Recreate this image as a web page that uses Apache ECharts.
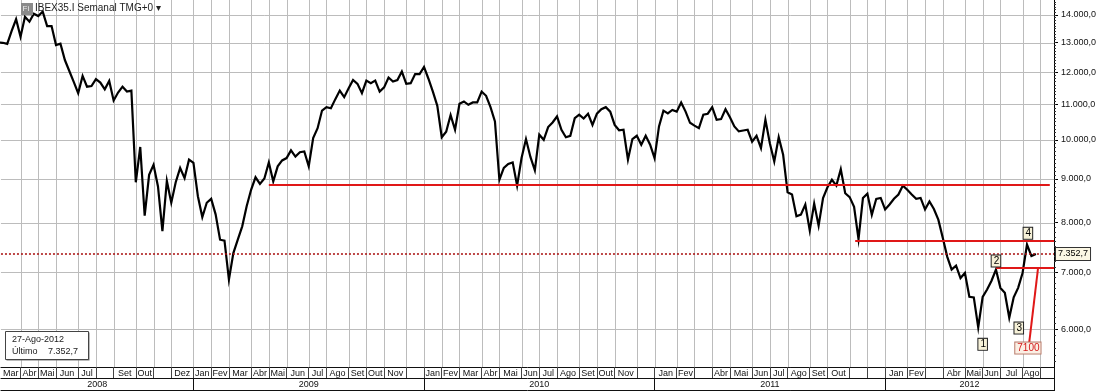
<!DOCTYPE html>
<html>
<head>
<meta charset="utf-8">
<script src="https://cdn.jsdelivr.net/npm/echarts@6/dist/echarts.min.js"></script>
<style>
html,body{margin:0;padding:0;background:#ffffff;}
#chart{width:1100px;height:391px;}
</style>
</head>
<body>
<div id="chart"></div>
<script>
// ---------------- data ----------------
const firstWeek = '2008-03-03';          // Monday of the first weekly bar
const weeklyClose = [
 13000,12990,12950,13410,13840,13200,13930,13750,14050,13960,
 14130,13590,13590,12910,12960,12400,12040,11690,11340,11880,
 11540,11560,11780,11670,11460,11720,11120,11360,11540,11390,
 11420,8920,9810,8150,9100,9350,8820,7820,8950,8440,
 8920,9270,9020,9480,9400,8590,8120,8440,8530,8180,
 7640,7620,6860,7370,7640,7920,8360,8740,9040,8880,
 9010,9410,8940,9310,9460,9520,9720,9560,9670,9690,
 9310,10050,10320,10820,10920,10890,11160,11420,11220,11490,
 11750,11630,11340,11730,11650,11730,11390,11520,11830,11700,
 11750,12020,11630,11650,11940,11940,12170,11790,11390,10960,
 10070,10220,10690,10275,11020,11090,10990,11060,11060,11390,
 11260,10920,10510,8980,9270,9370,9410,8840,9520,10020,
 9550,9210,10140,10000,10350,10480,10650,10275,10070,10110,
 10600,10700,10590,10730,10410,10730,10860,10920,10790,10410,
 10260,10275,9480,10020,10110,9870,10110,9870,9520,10370,
 10820,10740,10840,10790,11060,10790,10470,10390,10320,10700,
 10730,10920,10555,10575,10860,10630,10370,10230,10255,10275,
 9950,10110,9780,10555,9910,9435,10070,9605,8680,8630,
 8140,8175,8400,7835,8420,7935,8550,8800,8980,8840,
 9240,8660,8570,8350,7650,8550,8650,8170,8530,8550,
 8290,8400,8530,8630,8840,8740,8630,8530,8550,8290,
 8470,8300,8065,7680,7300,7050,7125,6890,6985,6550,
 6540,6030,6550,6680,6840,7050,6710,6620,6190,6540,
 6710,6985,7540,7310,7352.7
];
// month labels, one per month from Mar 2008 to Sep 2012 ('' = not printed)
const monthLabels = [
 'Mar','Abr','Mai','Jun','Jul','','Set','Out','','Dez',
 'Jan','Fev','Mar','Abr','Mai','Jun','Jul','Ago','Set','Out','Nov','',
 'Jan','Fev','Mar','Abr','Mai','Jun','Jul','Ago','Set','Out','Nov','',
 'Jan','Fev','','Abr','Mai','Jun','Jul','Ago','Set','Out','','',
 'Jan','Fev','','Abr','Mai','Jun','Jul','Ago',''
];
const yearLabels = ['2008','2009','2010','2011','2012'];
const yTicks = [6000,7000,8000,9000,10000,11000,12000,13000,14000];
const lastValue = 7352.7;
const lastDateText = '27-Ago-2012';
// horizontal support / resistance lines: [start, end(null = right edge), level]
const levelLines = [
 ['2009-05-04T00:00:00', '2012-09-18T00:00:00', 8870],
 ['2011-11-15T18:00:00', null, 7612],
 ['2012-06-25T00:00:00', null, 7080]
];
// projected target line: [date, value] -> [date, value], and its label
const targetFrom = ['2012-08-30T12:00:00', 7080];
const targetTo = ['2012-08-16T12:00:00', 5788];
const targetText = '7100';
const targetLabelAt = ['2012-08-14T10:00:00', 5705];
// wave count labels
const waveText = ['1', '2', '3', '4'];
const waveAt = [
 ['2012-06-04T00:00:00', 5762],
 ['2012-06-25T00:00:00', 7214],
 ['2012-07-31T00:00:00', 6021],
 ['2012-08-14T10:00:00', 7773]
];

// ---------------- helpers ----------------
const DAY = 86400000, WEEK = 7 * DAY;
const ts = s => Date.parse(s + (s.length > 10 ? 'Z' : 'T00:00:00Z'));
const t0 = ts(firstWeek);
const weekDates = weeklyClose.map((_, i) => t0 + i * WEEK);
const xMin = t0 + 0.586 * WEEK;
const xMax = t0 + 238.09 * WEEK;

// first weekly bar of every month (chart separators sit on them)
const monthStarts = [];
for (let t = t0; t <= xMax; t += WEEK) {
  const d = new Date(t);
  const key = d.getUTCFullYear() * 12 + d.getUTCMonth();
  if (!monthStarts.length || monthStarts[monthStarts.length - 1].key !== key) {
    monthStarts.push({ t, key, y: d.getUTCFullYear(), m: d.getUTCMonth() });
  }
}
const monthGrid = monthStarts.map(o => o.t).filter(t => t > xMin && t < xMax);
const monthLabelPos = [], monthLabelMap = new Map();
monthStarts.forEach((o, k) => {
  const a = Math.max(o.t, xMin);
  const b = k + 1 < monthStarts.length ? monthStarts[k + 1].t : xMax;
  const c = (a + b) / 2;
  if (monthLabels[k]) { monthLabelPos.push(c); monthLabelMap.set(c, monthLabels[k]); }
});
const yearStarts = monthStarts.filter(o => o.m === 0).map(o => o.t);
const yearBounds = [xMin].concat(yearStarts, [xMax]);
const yearLabelPos = [], yearLabelMap = new Map();
yearLabels.forEach((s, k) => {
  const c = (yearBounds[k] + yearBounds[k + 1]) / 2;
  yearLabelPos.push(c); yearLabelMap.set(c, s);
});
const fmtNum = (v, dec) => {
  const neg = v < 0; v = Math.abs(v);
  const fixed = v.toFixed(dec).split('.');
  const ip = fixed[0].replace(/\B(?=(\d{3})+(?!\d))/g, '.');
  return (neg ? '-' : '') + ip + (dec ? ',' + fixed[1] : '');
};
const minorTicks = [];
for (let v = 5500; v <= 14500; v += 100) minorTicks.push(v);

const FONT = 'Liberation Sans';
const RED = '#e01818';
const GRID = '#bcbcbc';

// gridline definitions: [x, y, kind]  kind 0 = vertical at x, 1 = horizontal at y
const gridDefs = monthGrid.map(t => [t, yTicks[4], 0]).concat(yTicks.map(v => [weekDates[100], v, 1]));

const markLineData = levelLines.map(l => [
  { coord: [ts(l[0]), l[2]], lineStyle: { color: RED, width: 2, type: 'solid' }, label: { show: false } },
  { coord: [l[1] ? ts(l[1]) : xMax, l[2]] }
]);
markLineData.push([
  { coord: [ts(targetFrom[0]), targetFrom[1]], lineStyle: { color: RED, width: 2, type: 'solid' }, label: { show: false } },
  { coord: [ts(targetTo[0]), targetTo[1]] }
]);
markLineData.push({
  yAxis: lastValue,
  lineStyle: { color: '#a80c0c', width: 1.5, type: [2, 2] },
  label: {
    show: true, position: 'end', distance: 2, formatter: fmtNum(lastValue, 1),
    fontFamily: FONT, fontSize: 9, color: '#000',
    backgroundColor: '#fbf7e4', borderColor: '#333', borderWidth: 1, padding: [2, 2, 1, 2]
  }
});

const boxLabel = (text, color, bg, border) => ({
  show: true, position: 'inside', formatter: text, fontFamily: FONT, fontSize: 10,
  color: color, backgroundColor: bg, borderColor: border, borderWidth: 1, padding: [1, 1, 0, 2]
});
const markPointData = waveText.map((s, i) => ({
  coord: [ts(waveAt[i][0]), waveAt[i][1]], symbol: 'rect', symbolSize: [0, 0],
  label: boxLabel(s, '#000', '#f6f1d8', '#222')
}));
markPointData.push({
  coord: [ts(targetLabelAt[0]), targetLabelAt[1]], symbol: 'rect', symbolSize: [0, 0],
  label: boxLabel(targetText, '#d41a1a', '#fbefe4', '#b87a6a')
});

const chart = echarts.init(document.getElementById('chart'), null, { renderer: 'canvas' });
const option = {
  animation: false,
  backgroundColor: '#ffffff',
  grid: { left: 0, right: 46, top: 0, bottom: 24, containLabel: false },
  xAxis: [
    { // data axis
      type: 'value', min: xMin, max: xMax, position: 'bottom',
      axisLine: { show: false }, axisTick: { show: false }, axisLabel: { show: false },
      splitLine: { show: false }
    },
    { // month label row
      type: 'value', min: xMin, max: xMax, position: 'bottom', offset: 0,
      axisLine: { show: true, lineStyle: { color: '#111', width: 1 } },
      axisTick: { show: true, customValues: monthGrid, length: 11, inside: false, lineStyle: { color: '#444', width: 1 } },
      axisLabel: {
        show: true, customValues: monthLabelPos, margin: 2,
        formatter: v => monthLabelMap.get(v) || '',
        fontFamily: FONT, fontSize: 9, color: '#111'
      },
      splitLine: { show: false }
    },
    { // year label row
      type: 'value', min: xMin, max: xMax, position: 'bottom', offset: 11,
      axisLine: { show: true, lineStyle: { color: '#111', width: 1 } },
      axisTick: { show: true, customValues: yearStarts, length: 13, inside: false, lineStyle: { color: '#111', width: 1 } },
      axisLabel: {
        show: true, customValues: yearLabelPos, margin: 2,
        formatter: v => yearLabelMap.get(v) || '',
        fontFamily: FONT, fontSize: 9, color: '#111'
      },
      splitLine: { show: false }
    },
    { // bottom frame
      type: 'value', min: xMin, max: xMax, position: 'bottom', offset: 23,
      axisLine: { show: true, lineStyle: { color: '#111', width: 1 } },
      axisTick: { show: false }, axisLabel: { show: false }, splitLine: { show: false }
    }
  ],
  yAxis: [
    {
      type: 'log', logBase: 10, position: 'right', min: 5421, max: 14578,
      axisLine: { show: true, lineStyle: { color: '#000', width: 1 } },
      axisTick: { show: true, customValues: yTicks, length: 4, inside: false, lineStyle: { color: '#000' } },
      axisLabel: {
        show: true, customValues: yTicks, margin: 7,
        formatter: v => fmtNum(v, 1), fontFamily: FONT, fontSize: 9, color: '#111'
      },
      splitLine: { show: false }
    },
    {
      type: 'log', logBase: 10, position: 'right', min: 5421, max: 14578,
      axisLine: { show: false },
      axisTick: { show: true, customValues: minorTicks, length: 2, inside: false, lineStyle: { color: '#333' } },
      axisLabel: { show: false }, splitLine: { show: false }
    }
  ],
  series: [
    {
      name: 'gridlines', type: 'custom', xAxisIndex: 0, yAxisIndex: 0, z: 1, silent: true,
      dimensions: ['x', 'y', 'kind'], encode: { x: 0, y: 1 },
      data: gridDefs,
      renderItem: (params, api) => {
        const cs = params.coordSys;
        const p = api.coord([api.value(0), api.value(1)]);
        if (api.value(2) === 0) {
          const x = Math.round(p[0]) + 0.5;
          return { type: 'line', shape: { x1: x, y1: cs.y, x2: x, y2: cs.y + cs.height }, style: { stroke: GRID, lineWidth: 1 } };
        }
        const y = Math.round(p[1]) + 0.5;
        return { type: 'line', shape: { x1: cs.x, y1: y, x2: cs.x + cs.width, y2: y }, style: { stroke: GRID, lineWidth: 1 } };
      }
    },
    {
      name: 'IBEX35', type: 'line', xAxisIndex: 0, yAxisIndex: 0, z: 3,
      data: weekDates.map((t, i) => [t, weeklyClose[i]]),
      symbol: 'none', showSymbol: false, clip: true,
      lineStyle: { color: '#000', width: 2.2, join: 'miter' },
      markLine: { silent: true, symbol: ['none', 'none'], animation: false, data: markLineData },
      markPoint: { silent: true, animation: false, data: markPointData }
    }
  ],
  graphic: [
    { type: 'line', z: 100, shape: { x1: 1054.5, y1: 367, x2: 1054.5, y2: 391 }, style: { stroke: '#111', lineWidth: 1 } },
    { type: 'rect', z: 100, shape: { x: 21, y: 3, width: 12, height: 12 }, style: { fill: '#8a8a8a' } },
    { type: 'text', z: 101, x: 22.5, y: 4.5, style: { text: 'Fi', fill: '#eeeeee', font: '8px ' + FONT } },
    { type: 'text', z: 100, x: 35, y: 3, style: { text: 'IBEX35.I Semanal TMG+0 \u25BE', fill: '#222', font: '10px ' + FONT } },
    { type: 'rect', z: 100, shape: { x: 6.5, y: 332.5, width: 83, height: 28 }, style: { fill: '#777', stroke: null } },
    { type: 'rect', z: 101, shape: { x: 5.5, y: 331.5, width: 83, height: 28 }, style: { fill: '#fff', stroke: '#444', lineWidth: 1 } },
    { type: 'text', z: 102, x: 12, y: 335, style: { text: lastDateText, fill: '#222', font: '9px ' + FONT } },
    { type: 'text', z: 102, x: 12, y: 347.5, style: { text: '\u00DAltimo', fill: '#222', font: '9px ' + FONT } },
    { type: 'text', z: 102, x: 78, y: 347.5, style: { text: fmtNum(lastValue, 1), fill: '#222', font: '9px ' + FONT, align: 'right' } }
  ]
};
chart.setOption(option);
</script>
</body>
</html>
